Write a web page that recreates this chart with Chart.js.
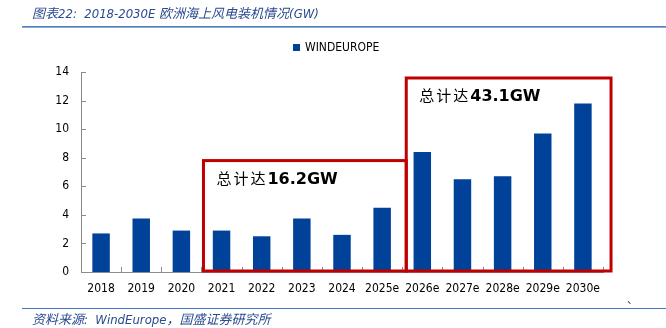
<!DOCTYPE html>
<html>
<head>
<meta charset="utf-8">
<script src="https://cdn.jsdelivr.net/npm/chart.js@4.4.1/dist/chart.umd.min.js"></script>
<style>
  html, body { margin: 0; padding: 0; background: #ffffff; }
  #wrap { position: relative; width: 666px; height: 328px; overflow: hidden; background: #fff; }
  #chartBox { position: absolute; left: 0; top: 0; width: 666px; height: 328px; }
  .title { position: absolute; left: 32px; top: 3px; font: italic 13px "DejaVu Sans Condensed", "Noto Sans CJK SC", sans-serif; color: #2a4a8f; white-space: nowrap; }
  .topline { position: absolute; left: 22px; top: 26px; width: 644px; height: 1px; background: #4f81bd; border-bottom: 1px solid #8aaad6; }
  .footline { position: absolute; left: 22px; top: 308px; width: 644px; height: 1px; background: #4472c4; }
  .foot { position: absolute; left: 32px; top: 309px; font: italic 13px "DejaVu Sans Condensed", "Noto Sans CJK SC", sans-serif; color: #2a4a8f; white-space: nowrap; }
  .legend { position: absolute; left: 293px; top: 40px; font: 12px "DejaVu Sans Condensed", sans-serif; color: #000; white-space: nowrap; display: flex; align-items: center; }
  .legend i { display: inline-block; width: 7px; height: 7px; background: #00419a; margin-right: 5px; }
  .note { position: absolute; white-space: nowrap; color: #000; }
  .note .cn { font: 15px "Noto Sans CJK SC", sans-serif; letter-spacing: 2px; }
  .note .num { font: bold 16px "DejaVu Sans", sans-serif; }
  .mark { position: absolute; left: 627px; top: 290px; font: 11px "Noto Sans CJK SC", sans-serif; color: #333; }
</style>
</head>
<body>
<div id="wrap">
  <div id="chartBox"><canvas id="c"></canvas></div>
  <div class="title">图表22:&nbsp; 2018-2030E 欧洲海上风电装机情况(GW)</div>
  <div class="topline"></div>
  <div class="legend"><i></i>WINDEUROPE</div>
  <div class="note" id="note0"><span class="cn">总计达</span><span class="num">16.2GW</span></div>
  <div class="note" id="note1"><span class="cn">总计达</span><span class="num">43.1GW</span></div>
  <div class="mark">、</div>
  <div class="footline"></div>
  <div class="foot">资料来源:&nbsp; WindEurope，国盛证券研究所</div>
</div>
<script>
// ---- data ----
const categories = ['2018','2019','2020','2021','2022','2023','2024','2025e','2026e','2027e','2028e','2029e','2030e'];
const windEurope = [2.7, 3.75, 2.9, 2.9, 2.5, 3.75, 2.6, 4.5, 8.4, 6.5, 6.7, 9.7, 11.8];
const seriesName = 'WINDEUROPE';
const yTicks = [0, 2, 4, 6, 8, 10, 12, 14];
const groupFirst = ['2021', '2026e'];
const groupLast = ['2025e', '2030e'];
const groupTotals = ['16.2GW', '43.1GW'];

// ---- box geometry (style) ----
const boxStyle = [
  { leftPad: 0.05, rightPad: 0.1, top: 7.8 },
  { leftPad: 0.1, rightPad: 0.2, top: 13.58 }
];

const AXIS = '#8c8c8c';

const boxesPlugin = {
  id: 'boxes',
  afterDatasetsDraw(chart) {
    const { ctx } = chart;
    const x = chart.scales.x, y = chart.scales.y;
    const step = x.getPixelForValue(1) - x.getPixelForValue(0);
    // inward tick marks
    ctx.save();
    ctx.strokeStyle = AXIS;
    ctx.lineWidth = 1;
    const left = chart.chartArea.left, bottom = chart.chartArea.bottom;
    yTicks.forEach(v => {
      const py = Math.round(y.getPixelForValue(v)) + 0.5;
      ctx.beginPath(); ctx.moveTo(left, py); ctx.lineTo(left + 5, py); ctx.stroke();
    });
    for (let i = 0; i < categories.length; i++) {
      const px = Math.round(x.getPixelForValue(i) + step / 2) + 0.5;
      ctx.beginPath(); ctx.moveTo(px, bottom); ctx.lineTo(px, bottom - 5); ctx.stroke();
    }
    ctx.restore();
    // group boxes
    ctx.save();
    ctx.strokeStyle = '#c00000';
    ctx.lineWidth = 3;
    groupFirst.forEach((f, k) => {
      const i0 = categories.indexOf(f), i1 = categories.indexOf(groupLast[k]);
      const st = boxStyle[k];
      const l = x.getPixelForValue(i0 - 0.5 + st.leftPad);
      const r = x.getPixelForValue(i1 + 0.5 + st.rightPad);
      const t = y.getPixelForValue(st.top);
      const b = y.getPixelForValue(0) - 1;
      ctx.strokeRect(l, t, r - l, b - t);
      const note = document.getElementById('note' + k);
      note.style.left = (l + 13) + 'px';
      note.style.top = (t + 6) + 'px';
    });
    ctx.restore();
  }
};

new Chart(document.getElementById('c'), {
  type: 'bar',
  data: {
    labels: categories,
    datasets: [{
      label: seriesName,
      data: windEurope,
      backgroundColor: '#00419a',
      borderColor: '#3a6fc0',
      borderWidth: 0,
      categoryPercentage: 1,
      barPercentage: 0.435
    }]
  },
  options: {
    responsive: true,
    maintainAspectRatio: false,
    animation: false,
    devicePixelRatio: 1,
    layout: { padding: { left: 0, right: 63, top: 72, bottom: 28 } },
    plugins: { legend: { display: false }, tooltip: { enabled: false } },
    scales: {
      x: {
        grid: { display: false, drawTicks: false },
        border: { display: true, color: AXIS, width: 1 },
        ticks: { padding: 10, color: '#000', font: { family: '"DejaVu Sans Condensed", sans-serif', size: 12 }, maxRotation: 0, autoSkip: false },
        afterFit(s) { s.height = 28; }
      },
      y: {
        min: 0, max: 14,
        grid: { display: false, drawTicks: false },
        border: { display: true, color: AXIS, width: 1 },
        ticks: { stepSize: 2, padding: 12, color: '#000', font: { family: '"DejaVu Sans Condensed", sans-serif', size: 12 } },
        afterFit(s) { s.width = 81; }
      }
    }
  },
  plugins: [boxesPlugin]
});
</script>
</body>
</html>
